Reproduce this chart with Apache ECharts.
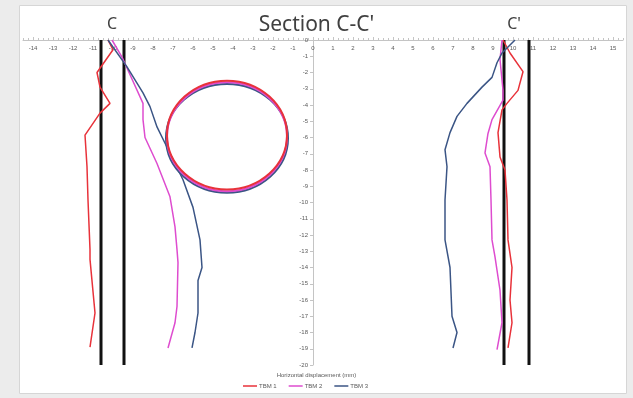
<!DOCTYPE html>
<html>
<head>
<meta charset="utf-8">
<script src="https://cdn.jsdelivr.net/npm/echarts@6/dist/echarts.min.js"></script>
<style>
  html, body { margin: 0; padding: 0; background: #ececec; }
  #chart { width: 633px; height: 398px; }
</style>
</head>
<body>
<div id="chart"></div>
<script>
// Horizontal displacement (mm) against depth for three TBM passes, section C-C'
const xTickLabels = [-14, -13, -12, -11, -10, -9, -8, -7, -6, -5, -4, -3, -2, -1, 0,
  1, 2, 3, 4, 5, 6, 7, 8, 9, 10, 11, 12, 13, 14, 15];

// inclinometer on the C side: [displacement, depth]
const tbm1Left = [[-10.25, 0], [-10.0, -0.6], [-10.8, -2.0], [-10.65, -2.9], [-10.15, -3.9],
  [-10.65, -4.5], [-11.4, -5.85], [-11.3, -7.8], [-11.25, -9.85], [-11.15, -12.9],
  [-11.15, -13.5], [-10.9, -16.8], [-11.15, -18.9]];
const tbm2Left = [[-10.05, 0], [-9.55, -1.05], [-8.5, -3.9], [-8.5, -4.9], [-8.4, -6.0],
  [-7.8, -7.6], [-7.15, -9.65], [-6.9, -11.5], [-6.8, -12.9], [-6.75, -13.7],
  [-6.8, -16.4], [-6.9, -17.4], [-7.25, -18.95]];
const tbm3Left = [[-10.25, 0], [-9.3, -1.65], [-8.5, -3.25], [-8.15, -4.1], [-7.8, -5.35],
  [-7.3, -6.6], [-6.5, -8.6], [-6.0, -10.3], [-5.65, -12.3], [-5.55, -14.0],
  [-5.75, -14.8], [-5.75, -16.8], [-5.9, -18.0], [-6.05, -18.95]];

// inclinometer on the C' side
const tbm1Right = [[9.5, 0], [9.85, -0.8], [10.5, -1.95], [10.25, -3.1], [9.7, -3.9],
  [9.45, -4.3], [9.25, -5.7], [9.35, -7.2], [9.6, -8.0], [9.7, -9.85], [9.75, -12.3],
  [9.95, -14.0], [9.85, -16.0], [9.95, -17.4], [9.75, -18.95]];
const tbm2Right = [[9.45, 0], [9.35, -1.2], [9.5, -3.1], [9.5, -3.7], [8.95, -4.9],
  [8.75, -5.75], [8.6, -6.95], [8.85, -7.8], [8.9, -9.85], [8.95, -12.3], [9.1, -13.35],
  [9.35, -15.4], [9.45, -17.4], [9.2, -19.05]];
const tbm3Right = [[10.1, 0], [9.45, -0.8], [9.2, -1.4], [8.95, -2.3], [8.45, -2.9],
  [7.7, -3.9], [7.2, -4.7], [6.85, -5.7], [6.6, -6.75], [6.7, -7.8], [6.6, -9.85],
  [6.6, -12.3], [6.85, -14.0], [6.95, -17.0], [7.2, -18.0], [7.0, -18.95]];

// tunnel outline per pass: [centre x, centre depth, half width, half height]
const tbm1Tunnel = [[-4.3, -5.85, 3.0, 3.35]];
const tbm2Tunnel = [[-4.3, -5.95, 3.0, 3.35]];
const tbm3Tunnel = [[-4.3, -6.05, 3.05, 3.35]];

// borehole boundaries and their depth span
const boundsX = [-10.6, -9.45, 9.55, 10.8];
const boundsDepth = [0, -20];

const colors = { 'TBM 1': '#e8323a', 'TBM 2': '#de4ccf', 'TBM 3': '#3b5585' };
const labelColor = '#595959';
const axisColor = '#c4c4c4';
const smallFont = 'Liberation Sans';

const GRID_LEFT = 23, GRID_WIDTH = 600, X_MIN = -14.5, X_MAX = 15.5;
// pixel shift that puts the depth axis on the zero displacement line
const yAxisShift = -GRID_WIDTH * (0 - X_MIN) / (X_MAX - X_MIN);

function curve(name, data) {
  return {
    name, type: 'line', data, symbol: 'none', z: 3,
    lineStyle: { color: colors[name], width: 1.5 },
    itemStyle: { color: colors[name] }
  };
}

function tunnel(name, data, z) {
  return {
    name, type: 'custom', data, z,
    encode: { x: 0, y: 1 },
    clip: false,
    renderItem(params, api) {
      const c = api.coord([api.value(0), api.value(1)]);
      const s = api.size([api.value(2), api.value(3)]);
      return {
        type: 'ellipse',
        shape: { cx: c[0], cy: c[1], rx: s[0], ry: s[1] },
        style: { fill: 'none', stroke: colors[name], lineWidth: 2 }
      };
    }
  };
}

const boundSeries = boundsX.map(x => ({
  name: 'bound', type: 'line', symbol: 'none', z: 2,
  data: boundsDepth.map(d => [x, d]),
  lineStyle: { color: '#111', width: 3 }
}));

const chart = echarts.init(document.getElementById('chart'), null, { renderer: 'canvas' });
chart.setOption({
  animation: false,
  graphic: [
    { type: 'rect', shape: { x: 19.5, y: 5.5, width: 607, height: 388 },
      style: { fill: '#ffffff', stroke: '#d6d6d6', lineWidth: 1 }, z: -10 },
    { type: 'text', x: 112, y: 24, style: { text: 'C', fontSize: 16, fill: '#404040',
      fontFamily: 'Noto Sans', align: 'center', verticalAlign: 'middle' } },
    { type: 'text', x: 514, y: 24, style: { text: "C'", fontSize: 16, fill: '#404040',
      fontFamily: 'Noto Sans', align: 'center', verticalAlign: 'middle' } }
  ],
  title: [
    { text: "Section C-C'", left: 'center', top: 10,
      textStyle: { fontSize: 21, fontWeight: 'normal', color: '#404040', fontFamily: 'Noto Sans' } },
    { text: 'Horizontal displacement (mm)', left: 'center', top: 367,
      textStyle: { fontSize: 6, fontWeight: 'normal', color: labelColor, fontFamily: smallFont } }
  ],
  legend: {
    data: ['TBM 1', 'TBM 2', 'TBM 3'],
    bottom: 4, left: 238,
    icon: 'rect', itemWidth: 14, itemHeight: 1.5, itemGap: 12,
    textStyle: { fontSize: 6, color: labelColor, fontFamily: smallFont, padding: [0, 0, 0, -3] }
  },
  grid: { left: GRID_LEFT, width: GRID_WIDTH, top: 40, bottom: 33, containLabel: false },
  xAxis: [{
    type: 'value', position: 'top', min: X_MIN, max: X_MAX,
    axisLine: { onZero: false, lineStyle: { color: axisColor, width: 1 } },
    axisTick: { show: true, length: 3, customValues: xTickLabels, lineStyle: { color: axisColor } },
    axisLabel: { inside: true, margin: 5, fontSize: 6, color: labelColor, fontFamily: smallFont,
      customValues: xTickLabels },
    splitLine: { show: false }
  }, {
    // fine tick marks along the displacement axis
    type: 'value', position: 'top', min: X_MIN, max: X_MAX, interval: 0.5,
    axisLine: { show: false, onZero: false },
    axisTick: { show: true, length: 2, lineStyle: { color: axisColor } },
    minorTick: { show: true, splitNumber: 2, length: 2, lineStyle: { color: axisColor } },
    axisLabel: { show: false },
    splitLine: { show: false }
  }],
  yAxis: {
    type: 'value', min: -20, max: 0, interval: 1,
    offset: yAxisShift,
    axisLine: { onZero: false, lineStyle: { color: axisColor, width: 1 } },
    axisTick: { show: true, length: 3, lineStyle: { color: axisColor } },
    axisLabel: { margin: 5, fontSize: 6, color: labelColor, fontFamily: smallFont },
    splitLine: { show: false }
  },
  series: [
    ...boundSeries,
    curve('TBM 1', tbm1Left), curve('TBM 2', tbm2Left), curve('TBM 3', tbm3Left),
    curve('TBM 1', tbm1Right), curve('TBM 2', tbm2Right), curve('TBM 3', tbm3Right),
    tunnel('TBM 3', tbm3Tunnel, 4), tunnel('TBM 2', tbm2Tunnel, 5), tunnel('TBM 1', tbm1Tunnel, 6)
  ]
});
</script>
</body>
</html>
